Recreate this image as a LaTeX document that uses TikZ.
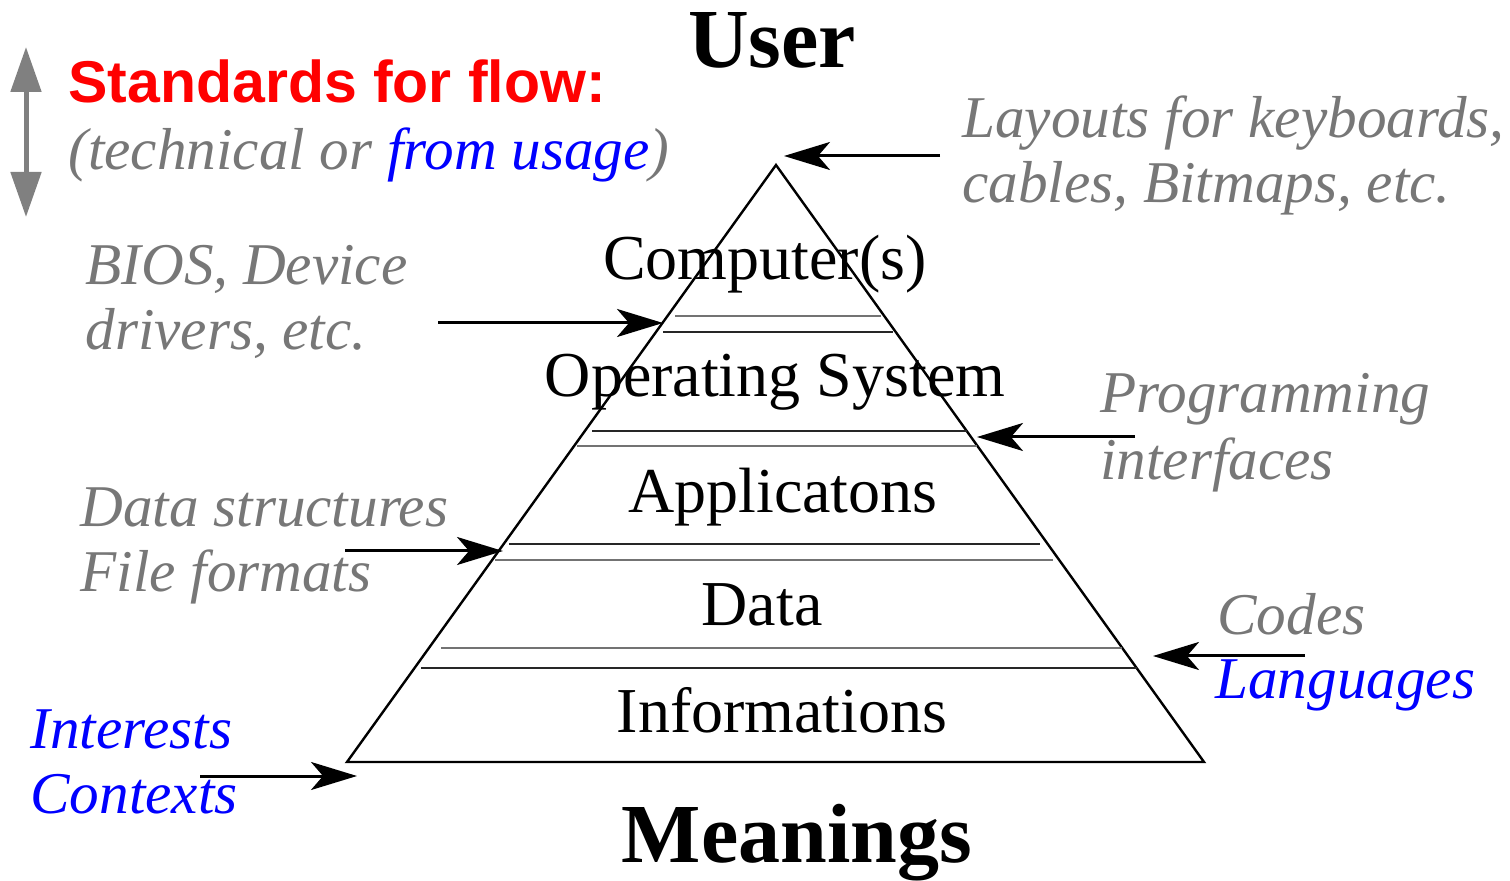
\documentclass[tikz,border=0pt]{standalone}
\usepackage{fontspec}
\setmainfont{Liberation Serif}
\newfontfamily\arialfont{Liberation Sans}
\usetikzlibrary{arrows.meta}
\definecolor{txtgray}{HTML}{777777}
\definecolor{arrgray}{HTML}{808080}
\definecolor{pureblue}{HTML}{0000FF}
\definecolor{purered}{HTML}{FF0000}
\tikzset{
  big/.style={inner sep=0pt, anchor=base, font=\bfseries\fontsize{42}{46}\selectfont},
  layer/.style={inner sep=0pt, anchor=base, font=\fontsize{32}{36}\selectfont},
  note/.style={inner sep=0pt, anchor=base west, font=\itshape\fontsize{29.6}{32}\selectfont, text=txtgray},
  bluenote/.style={note, text=pureblue},
  pointer/.style={line width=1.5pt, -{Stealth[length=23pt,width=14pt,inset=6pt]}},
  edge/.style={line width=1.2pt, line join=miter},
  sepA/.style={line width=0.8pt, draw=black!55},
  sepB/.style={line width=0.8pt, draw=black!85},
}
\begin{document}
\begin{tikzpicture}[x=0.5pt, y=-0.5pt]
\useasboundingbox (0,0) rectangle (1510,881);

% pyramid
\coordinate (apex) at (776,165);
\coordinate (bl) at (347,762);
\coordinate (br) at (1204,762);
\draw[edge] (apex) -- (bl) -- (br) -- cycle;

% separator pairs
\draw[sepA] (675,316) -- (881,316);
\draw[sepB] (663,332) -- (893,332);
\draw[sepB] (592,431) -- (967,431);
\draw[sepA] (577,446) -- (977,446);
\draw[sepB] (509,544) -- (1040,544);
\draw[sepA] (495,560) -- (1053,560);
\draw[sepA] (441,648) -- (1122,648);
\draw[sepB] (421,668) -- (1137,668);

% title texts
\node[big] (user) at (772,68) {User};
\node[big] (meanings) at (797,862) {Meanings};

% layers
\node[layer] (comp) at (765,280) {Computer(s)};
\node[layer] (os) at (775,397) {Operating System};
\node[layer] (apps) at (783,513) {Applicatons};
\node[layer] (data) at (762,625) {Data};
\node[layer] (info) at (782,733) {Informations};

% legend
\node[inner sep=0pt, anchor=base west, font=\arialfont\bfseries\fontsize{29.5}{33}\selectfont, text=purered] (std) at (68,103) {Standards for flow:};
\node[note] (tech) at (68,170) {(technical or \textcolor{pureblue}{from usage})};
\coordinate (gtop) at (26,47);
\coordinate (gbot) at (26,217);
\draw[draw=arrgray, line width=2.5pt, {Triangle[length=22.5pt,width=15pt]}-{Triangle[length=22.5pt,width=15pt]}] (gtop) -- (gbot);

% side notes
\node[note] (lay1) at (962,138) {Layouts for keyboards,};
\node[note] (lay2) at (962,203) {cables, Bitmaps, etc.};
\node[note] (bios1) at (85,285) {BIOS, Device};
\node[note] (bios2) at (85,350) {drivers, etc.};
\node[note] (prog1) at (1100,413) {Programming};
\node[note] (prog2) at (1100,480) {interfaces};
\node[note] (ds1) at (80,527) {Data structures};
\node[note] (ds2) at (80,592) {File formats};
\node[note] (codes) at (1217,634) {Codes};
\node[bluenote] (lang) at (1215,698) {Languages};
\node[bluenote] (inter) at (30,748) {Interests};
\node[bluenote] (ctx) at (30,813) {Contexts};

% pointers
\coordinate (a1s) at (940,156);  \coordinate (a1e) at (784,156);
\coordinate (a2s) at (438,323);  \coordinate (a2e) at (663,323);
\coordinate (a3s) at (1135,437); \coordinate (a3e) at (977,437);
\coordinate (a4s) at (345,551);  \coordinate (a4e) at (503,551);
\coordinate (a5s) at (1305,656); \coordinate (a5e) at (1153,656);
\coordinate (a6s) at (200,776);  \coordinate (a6e) at (357,776);
\draw[pointer] (a1s) -- (a1e);
\draw[pointer] (a2s) -- (a2e);
\draw[pointer] (a3s) -- (a3e);
\draw[pointer] (a4s) -- (a4e);
\draw[pointer] (a5s) -- (a5e);
\draw[pointer] (a6s) -- (a6e);
\end{tikzpicture}
\end{document}
